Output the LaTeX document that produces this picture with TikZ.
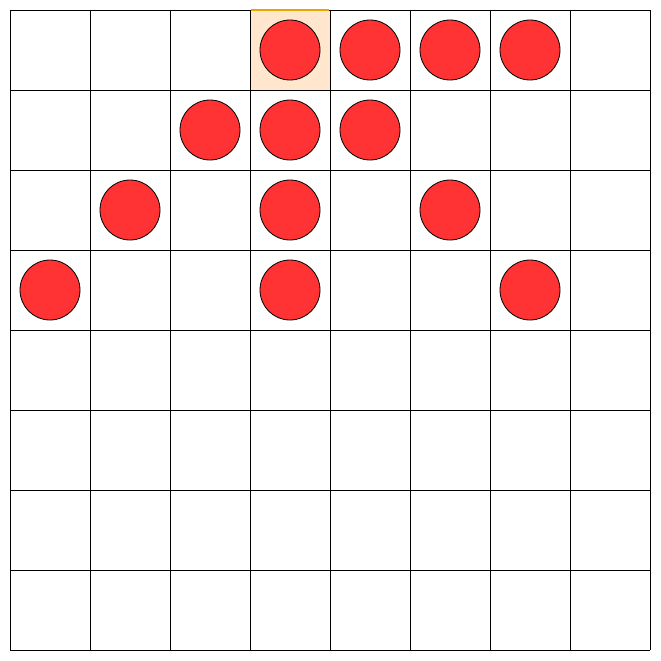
\documentclass[tikz,border=0pt]{standalone}
\definecolor{piecered}{HTML}{FF3333}
\definecolor{hlfill}{HTML}{FFE6CC}
\definecolor{hlstroke}{HTML}{E8A600}
\tikzset{
  piece/.style={circle,draw=black,fill=piecered,minimum size=60pt,inner sep=0pt,line width=0.8pt},
  gridline/.style={draw=black,line width=0.8pt}
}
\begin{document}
\begin{tikzpicture}[x=1pt,y=-1pt]
\useasboundingbox (0,0) rectangle (661,661);
\fill[white] (0,0) rectangle (661,661);
\fill[hlfill] (250,10) rectangle (330,90);
\foreach \i in {0,...,8} {
  \draw[gridline] (10+80*\i,10) -- (10+80*\i,650);
  \draw[gridline] (10,10+80*\i) -- (650,10+80*\i);
}
\draw[hlstroke,line width=1.4pt] (250.6,10) -- (329.4,10);
\foreach \c/\r [count=\k] in {3/0,4/0,5/0,6/0,2/1,3/1,4/1,1/2,3/2,5/2,0/3,3/3,6/3} {
  \node[piece] (p\k) at (50+80*\c,50+80*\r) {};
}
\end{tikzpicture}
\end{document}
